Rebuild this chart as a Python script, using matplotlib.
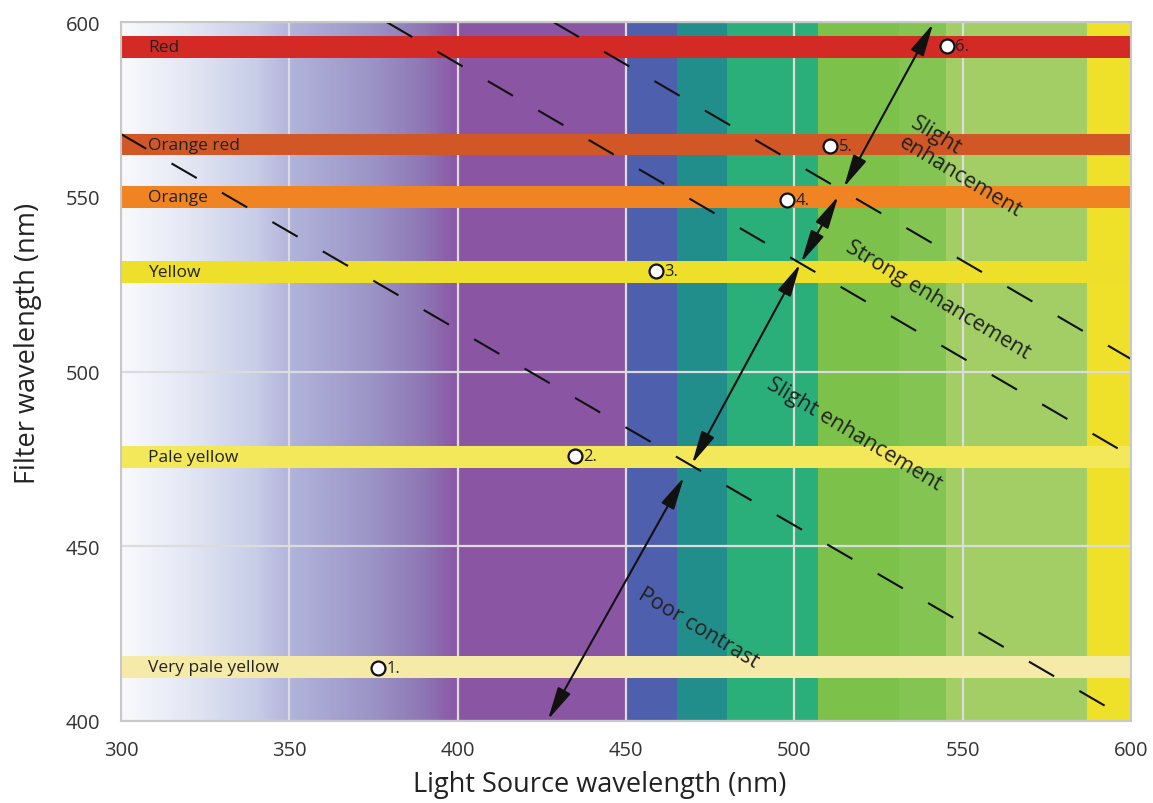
import numpy as np
import matplotlib
matplotlib.use("Agg")
import matplotlib.pyplot as plt
from matplotlib.colors import LinearSegmentedColormap

plt.rcParams['font.family'] = ['Open Sans', 'DejaVu Sans']

# Light source background: gradient stops for the UV/violet part
grad_nm = [300, 320, 340, 350, 375, 390, 400]
grad_colors = ['#fafafd', '#e3e7f4', '#c8cde8', '#b2b4db', '#9b93c6', '#8e77b5', '#8a57a5']

# Solid light source bands (start, end, colour)
band_start = [400, 450, 465, 480, 507, 531, 545, 587]
band_end = [450, 465, 480, 507, 531, 545, 587, 600]
band_colors = ['#8a56a4', '#4e5fad', '#228e8b', '#2aae7a', '#7cc14a', '#84c452', '#a2ce65', '#efe12a']

# Filters (horizontal bars)
filter_names = ['Red', 'Orange red', 'Orange', 'Yellow', 'Pale yellow', 'Very pale yellow']
filter_nm = [593, 565, 550, 528.5, 475.5, 415.5]
filter_colors = ['#d42a26', '#d25726', '#f08423', '#eee02a', '#f2e85a', '#f6eaa8']

# Numbered points
pt_x = [376.3, 434.8, 458.9, 497.8, 510.6, 545.3]
pt_y = [415.2, 475.8, 528.8, 549.1, 564.5, 593.1]
pt_labels = ['1.', '2.', '3.', '4.', '5.', '6.']

# Dashed boundary lines (two points each)
dash_x = [[300, 600], [379, 600], [428.5, 600]]
dash_y = [[568, 400], [600, 475.8], [600, 503.6]]

# Double arrows (x0, y0, x1, y1)
arrows = [(426.8, 400.4, 467.2, 469.8),
          (469.6, 473.7, 501.7, 530.8),
          (502.0, 531.3, 513.0, 550.2),
          (514.7, 552.8, 541.2, 599.6)]

# Region annotations
notes = ['Slight\nenhancement', 'Strong enhancement', 'Slight enhancement', 'Poor contrast']
note_x = [551, 542.6, 517.7, 471.4]
note_y = [558.8, 520.7, 482.4, 426.9]

fig = plt.figure(figsize=(11.53, 8.04), dpi=100)
ax = fig.add_axes([0.105, 0.102, 0.876, 0.869])

# gradient
cmap = LinearSegmentedColormap.from_list(
    'uv', [((v - grad_nm[0]) / (grad_nm[-1] - grad_nm[0]), c) for v, c in zip(grad_nm, grad_colors)])
ax.imshow(np.linspace(0, 1, 400).reshape(1, -1), cmap=cmap, aspect='auto',
          extent=[grad_nm[0], grad_nm[-1], 400, 600], zorder=0)
for s, e, c in zip(band_start, band_end, band_colors):
    ax.axvspan(s, e, color=c, lw=0, zorder=0)

ax.set_xlim(300, 600)
ax.set_ylim(400, 600)
ax.set_xticks(range(300, 601, 50))
ax.set_yticks(range(400, 601, 50))
ax.set_axisbelow(True)
ax.grid(True, color='#dcdcdc', lw=1.6)
ax.tick_params(length=0, labelsize=14.5, labelcolor='#333333')
ax.tick_params(axis='x', pad=14)
ax.tick_params(axis='y', pad=15)
for sp in ax.spines.values():
    sp.set_color('#c8c8c8')
    sp.set_linewidth(1.5)
    sp.set_zorder(6)

ax.barh(filter_nm, 300, left=300, height=6.2, color=filter_colors, zorder=2)
for name, y in zip(filter_names, filter_nm):
    ax.text(308, y, name, fontsize=12.5, color='#222222', va='center', ha='left', zorder=3)

for xs, ys in zip(dash_x, dash_y):
    ax.plot(xs, ys, color='#111111', lw=1.5, dashes=(14, 14), zorder=3)

for x0, y0, x1, y1 in arrows:
    ax.annotate('', xy=(x1, y1), xytext=(x0, y0),
                arrowprops=dict(arrowstyle='<|-|>,head_length=1.0,head_width=0.22',
                                color='#111111', lw=1.5, mutation_scale=20,
                                shrinkA=0, shrinkB=0), zorder=4)

ax.plot(pt_x, pt_y, 'o', ms=10, mfc='white', mec='#111111', mew=1.6, zorder=5)
for x, y, t in zip(pt_x, pt_y, pt_labels):
    ax.annotate(t, (x, y), xytext=(6, 0), textcoords='offset points',
                fontsize=12, va='center', ha='left', color='#222222', zorder=5)

for t, x, y in zip(notes, note_x, note_y):
    ax.text(x, y, t, fontsize=15.5, rotation=-31, rotation_mode='anchor',
            ha='center', va='center', multialignment='left', color='#222222',
            linespacing=1.1, zorder=5)

ax.set_xlabel('Light Source wavelength (nm)', fontsize=19.5, color='#222222')
ax.set_ylabel('Filter wavelength (nm)', fontsize=19.5, color='#222222')
ax.xaxis.set_label_coords(0.474, -0.07)
ax.yaxis.set_label_coords(-0.078, 0.542)

fig.savefig('out.png', dpi=100)
